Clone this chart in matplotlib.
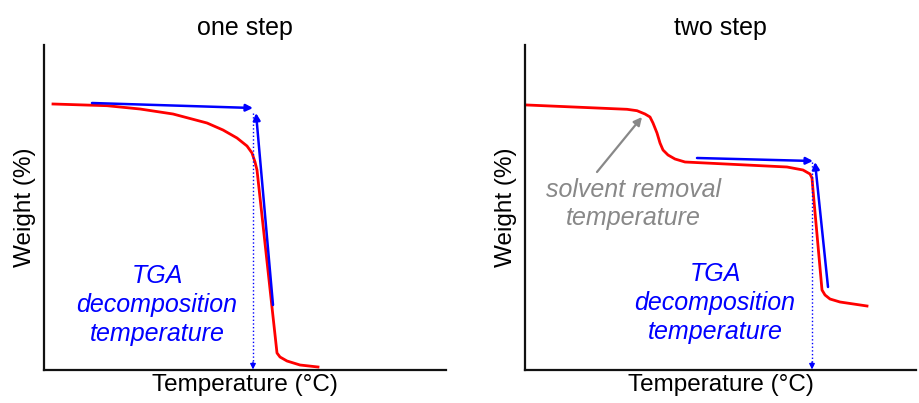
import matplotlib
matplotlib.use("Agg")
import matplotlib.pyplot as plt

plt.rcParams['font.family'] = ['Liberation Sans', 'DejaVu Sans']

# one step curve (temperature, weight) in arbitrary units
one_temp = [9, 63, 96, 129, 163, 179, 193, 203, 208, 211, 213, 233, 236, 243, 256, 274]
one_weight = [266, 264.3, 261, 256, 247, 240, 232, 224, 217, 208, 200, 17, 13, 9, 5, 3]
one_flat = ([48, 209], [267, 262])
one_steep = ([229, 212], [65, 257])
one_onset = 209

# two step curve
two_temp = [2, 102, 112, 120, 125, 128, 132, 135, 138, 143, 150, 160,
            262, 278, 285, 287, 288, 297, 300, 305, 315, 342]
two_weight = [265, 260.7, 259.3, 256, 253, 247, 237, 227, 220, 215, 211, 208,
              203, 200, 196, 192, 180, 80, 75, 71, 68, 64]
two_flat = ([172, 288], [212, 209])
two_steep = ([303, 290], [83, 208])
two_onset = 287

red = '#ff0000'
blue = '#0000ff'
gray = '#888888'

fig = plt.figure(figsize=(9.19, 4.03), dpi=100)
ax1 = fig.add_axes([44/919, 33/403, 402/919, 325/403])
ax2 = fig.add_axes([525/919, 33/403, 391/919, 325/403])


def style_axes(ax, title, xmax):
    ax.set_xlim(0, xmax)
    ax.set_ylim(0, 325)
    ax.set_xticks([])
    ax.set_yticks([])
    for s in ['top', 'right']:
        ax.spines[s].set_visible(False)
    for s in ['left', 'bottom']:
        ax.spines[s].set_linewidth(1.6)
        ax.spines[s].set_color('#111111')
    ax.set_title(title, fontsize=18, pad=7)
    ax.set_xlabel('Temperature (°C)', fontsize=17.5, labelpad=3)
    ax.set_ylabel('Weight (%)', fontsize=17.5, labelpad=6)


def tangents(ax, flat, steep, onset):
    ax.annotate('', xy=(flat[0][1], flat[1][1]), xytext=(flat[0][0], flat[1][0]),
                arrowprops=dict(arrowstyle='-|>', color=blue, lw=1.8,
                                mutation_scale=10, shrinkA=0, shrinkB=0))
    ax.annotate('', xy=(steep[0][1], steep[1][1]), xytext=(steep[0][0], steep[1][0]),
                arrowprops=dict(arrowstyle='-|>', color=blue, lw=1.8,
                                mutation_scale=10, shrinkA=0, shrinkB=0))
    top = steep[1][1]
    ax.plot([onset, onset], [top, 4], color=blue, lw=1, ls=':')
    ax.annotate('', xy=(onset, 0.5), xytext=(onset, 8),
                arrowprops=dict(arrowstyle='-|>', color=blue, lw=1,
                                mutation_scale=8, shrinkA=0, shrinkB=0))


style_axes(ax1, 'one step', 402)
ax1.plot(one_temp, one_weight, color=red, lw=2, solid_joinstyle='round')
tangents(ax1, one_flat, one_steep, one_onset)
ax1.text(113, 65, 'TGA\ndecomposition\ntemperature', color=blue, fontsize=18,
         style='italic', ha='center', va='center', linespacing=1.25)

style_axes(ax2, 'two step', 391)
ax2.plot(two_temp, two_weight, color=red, lw=2, solid_joinstyle='round')
tangents(ax2, two_flat, two_steep, two_onset)
ax2.text(190, 67, 'TGA\ndecomposition\ntemperature', color=blue, fontsize=18,
         style='italic', ha='center', va='center', linespacing=1.25)
ax2.text(108, 166, 'solvent removal\ntemperature', color=gray, fontsize=18,
         style='italic', ha='center', va='center', linespacing=1.25)
ax2.annotate('', xy=(117, 253), xytext=(72, 198),
             arrowprops=dict(arrowstyle='-|>', color=gray, lw=1.6,
                             mutation_scale=12, shrinkA=0, shrinkB=0))

fig.savefig('out.png', dpi=100)
